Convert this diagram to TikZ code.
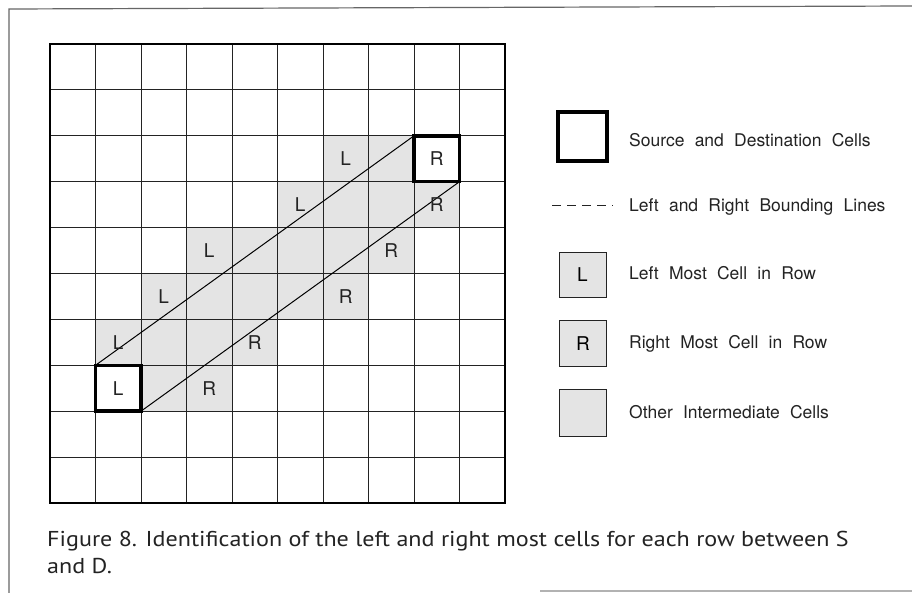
\documentclass[tikz,border=0pt]{standalone}
\usepackage{fontspec}
\setmainfont{TeX Gyre Heros}[WordSpace=2.1]
\newfontfamily\capfont{PT Sans}
\definecolor{cellgrey}{RGB}{228,228,228}
\definecolor{inkgrey}{RGB}{35,35,35}
\begin{document}
\begin{tikzpicture}[x=1pt,y=-1pt,
  font=\fontsize{17.5}{19}\selectfont,
  gridline/.style={draw=inkgrey,line width=0.9pt},
  srcdst/.style={draw=black,line width=3.6pt,fill=white,minimum width=45.5pt,minimum height=45.9pt,inner sep=0pt,outer sep=0pt},
  lbl/.style={inner sep=0pt,text=inkgrey,font=\fontsize{19}{20}\selectfont},
  bound/.style={draw=black,line width=1pt},
  legbox/.style={draw=inkgrey,line width=0.9pt,fill=cellgrey,minimum width=47pt,minimum height=45pt,inner sep=0pt,font=\fontsize{19}{20}\selectfont},
  legtext/.style={anchor=base west,inner sep=0pt,text=inkgrey},
  captext/.style={anchor=base west,inner sep=0pt,text=inkgrey,font=\capfont\fontsize{21.5}{24}\selectfont}]
\useasboundingbox (0,0) rectangle (912,593);
\fill[white] (0,0) rectangle (912,593);
% page frame
\draw[gray!80!black,line width=1.2pt] (9,593) -- (9,9) -- (912,6);
\draw[gray!60,line width=1.2pt] (540,591) -- (912,591);
% shaded cells
\foreach \c/\r in {6/2,7/2, 5/3,6/3,7/3,8/3, 3/4,4/4,5/4,6/4,7/4, 2/5,3/5,4/5,5/5,6/5, 1/6,2/6,3/6,4/6, 2/7,3/7}
  \fill[cellgrey] (50+\c*45.5,44+\r*45.9) rectangle ++(45.5,45.9);
% grid
\foreach \i in {1,...,9} {
  \draw[gridline] (50+\i*45.5,44) -- (50+\i*45.5,503);
  \draw[gridline] (50,44+\i*45.9) -- (505,44+\i*45.9);
}
\draw[draw=black,line width=1.8pt] (50,44) rectangle (505,503);
% source and destination
\node[srcdst] (S) at (50+1.5*45.5,44+7.5*45.9) {};
\node[srcdst] (D) at (50+8.5*45.5,44+2.5*45.9) {};
\node[lbl] (SL) at (S) {L};
\node[lbl] (DR) at (D) {R};
% bounding lines
\draw[bound] (S.north west) -- (D.north west);
\draw[bound] (S.south east) -- (D.south east);
% left / right most labels
\node[lbl] (L2) at (50+6.5*45.5,44+2.5*45.9) {L};
\node[lbl] (L3) at (50+5.5*45.5,44+3.5*45.9) {L};
\node[lbl] (L4) at (50+3.5*45.5,44+4.5*45.9) {L};
\node[lbl] (L5) at (50+2.5*45.5,44+5.5*45.9) {L};
\node[lbl] (L6) at (50+1.5*45.5,44+6.5*45.9) {L};
\node[lbl] (R3) at (50+8.5*45.5,44+3.5*45.9) {R};
\node[lbl] (R4) at (50+7.5*45.5,44+4.5*45.9) {R};
\node[lbl] (R5) at (50+6.5*45.5,44+5.5*45.9) {R};
\node[lbl] (R6) at (50+4.5*45.5,44+6.5*45.9) {R};
\node[lbl] (R7) at (50+3.5*45.5,44+7.5*45.9) {R};
% legend
\node[srcdst,minimum width=49pt,minimum height=49pt] (legSD) at (582.5,136.7) {};
\node[legtext] (tSD) at (629,146.5) {Source and Destination Cells};
\coordinate (dashA) at (552,206);
\coordinate (dashB) at (613,206);
\draw[draw=inkgrey,line width=1pt,dash pattern=on 9pt off 6pt] (dashA) -- (dashB);
\node[legtext] (tLR) at (629,212) {Left and Right Bounding Lines};
\node[legbox] (legL) at (582.5,274.5) {L};
\node[legtext] (tL) at (629,280) {Left Most Cell in Row};
\node[legbox,minimum height=46pt] (legR) at (583,343.5) {R};
\node[legtext] (tR) at (629,348.5) {Right Most Cell in Row};
\node[legbox,minimum height=47pt] (legO) at (582.5,412.5) {};
\node[legtext] (tO) at (629,418) {Other Intermediate Cells};
% caption
\node[captext] (cap1) at (47,546) {\scalebox{1.12}[1]{Figure 8. Identification of the left and right most cells for each row between S}};
\node[captext] (cap2) at (47,573) {\scalebox{1.12}[1]{and D.}};
\end{tikzpicture}
\end{document}
